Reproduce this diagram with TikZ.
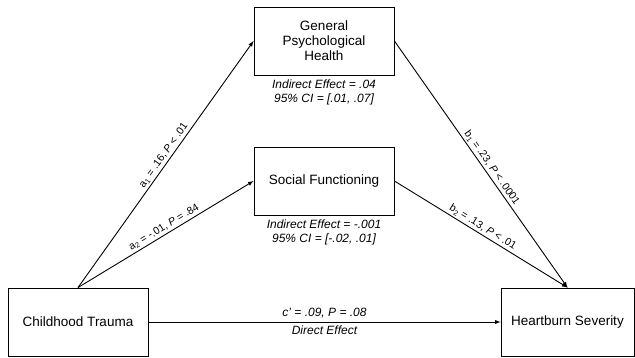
\documentclass[tikz,border=0pt]{standalone}
\usepackage{fontspec}
\setmainfont{Liberation Sans}
\usetikzlibrary{positioning}
\begin{document}
\begin{tikzpicture}[x=1pt,y=1pt,
  var/.style={draw,line width=0.9pt,minimum width=140pt,minimum height=68pt,align=center,font=\fontsize{13.5}{15}\selectfont},
  eff/.style={align=center,inner sep=1pt,font=\fontsize{12}{14}\selectfont\itshape},
  coef/.style={sloped,above,inner sep=2pt,font=\fontsize{10.5}{12}\selectfont}]
\useasboundingbox (0,0) rectangle (635,357);
\node[var] (gph) at (324,316) {General\\Psychological\\Health};
\node[var] (sf) at (324,176) {Social Functioning};
\node[var] (ct) at (78,35) {Childhood Trauma};
\node[var,minimum width=133pt] (hs) at (567.5,35) {Heartburn Severity};
\node[eff,below=3pt of gph] (gphie) {Indirect Effect = .04\\95\% CI = [.01, .07]};
\node[eff,below=3pt of sf] (sfie) {Indirect Effect = -.001\\95\% CI = [-.02, .01]};
% paths a, b and c'
\draw[->,>=latex,line width=0.9pt](ct.north)--(gph.west)node[coef,pos=0.52]{a\textsubscript{1} = .16, \textit{P} < .01};
\draw[->,>=latex,line width=0.9pt](ct.north)--(sf.west)node[coef,pos=0.51]{a\textsubscript{2} = -.01, \textit{P} = .84};
\draw[->,>=latex,line width=0.9pt](gph.east)--(hs.north)node[coef,pos=0.53]{b\textsubscript{1} = .23, \textit{P} < .0001};
\draw[->,>=latex,line width=0.9pt](sf.east)--(hs.north)node[coef,pos=0.49]{b\textsubscript{2} = .13, \textit{P} < .01};
\draw[->,>=latex,line width=0.9pt](ct.east)--(hs.west)
  node[midway,above,font=\fontsize{12}{14}\selectfont\itshape](cdir){c’ = .09, P = .08}
  node[midway,below,font=\fontsize{12}{14}\selectfont\itshape](dir){Direct Effect};
\end{tikzpicture}
\end{document}
